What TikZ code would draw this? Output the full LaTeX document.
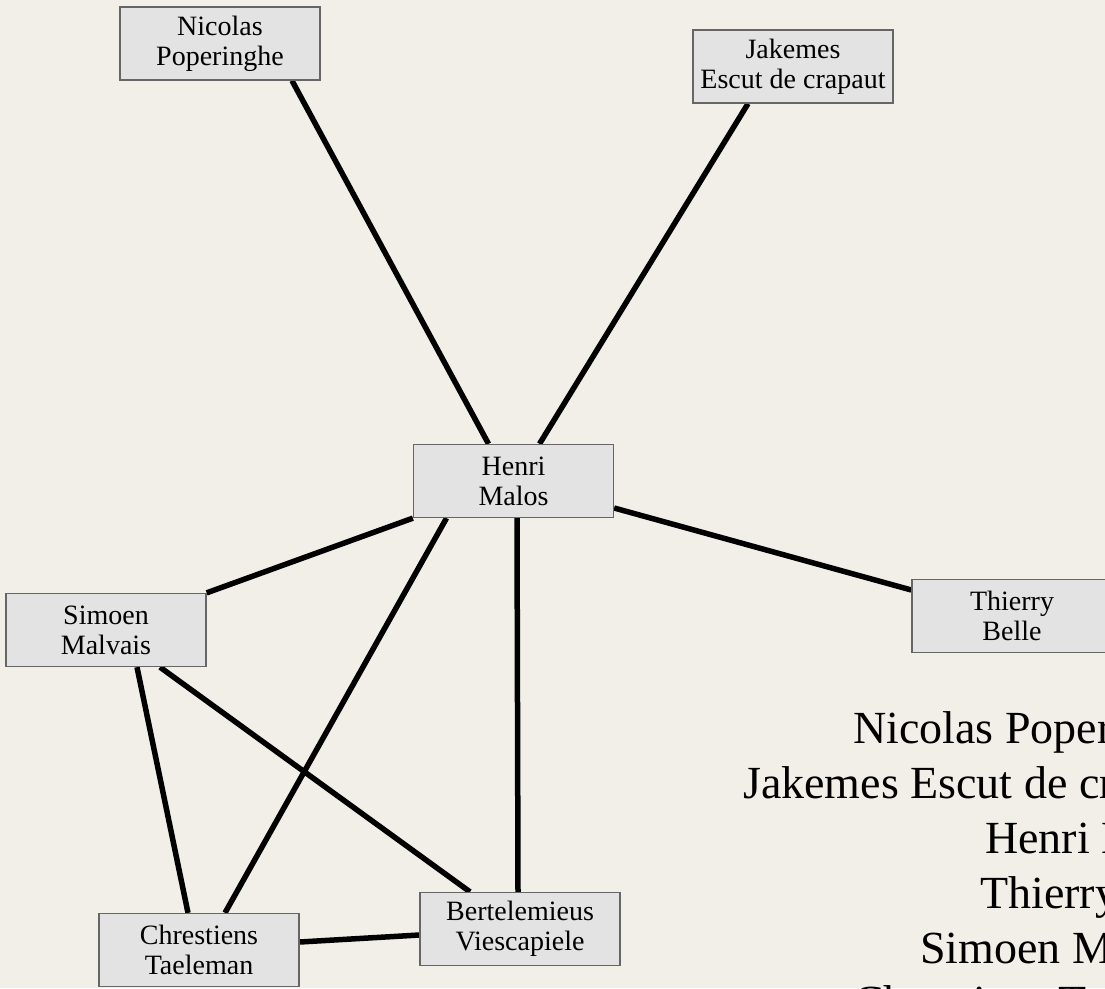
\documentclass[tikz,border=0pt]{standalone}
\usepackage{fontspec}
\setmainfont{Liberation Serif}
\definecolor{paper}{HTML}{F2EFE9}
\definecolor{boxfill}{HTML}{E3E3E3}
\definecolor{boxline}{HTML}{666666}
\pgfdeclarelayer{paperlayer}
\pgfdeclarelayer{tielayer}
\pgfsetlayers{paperlayer,tielayer,main}
\begin{document}
\begin{tikzpicture}[x=1pt,y=-1pt,
  person/.style={draw=boxline, fill=boxfill, line width=1.3pt,
    minimum width=200pt, minimum height=73pt, inner sep=0pt, align=center,
    font=\fontsize{28}{30}\selectfont},
  tie/.style={line width=5.5pt, draw=black},
  roll/.style={anchor=base west, inner sep=0pt,
    font=\fontsize{46}{55}\selectfont}]

\useasboundingbox (0,0) rectangle (1105,988);
\begin{pgfonlayer}{paperlayer}
  \fill[paper] (0,0) rectangle (1105,988);
\end{pgfonlayer}
\clip (0,0) rectangle (1105,988);

% people
\node[person] (np) at (220,43.5)  {Nicolas\\Poperinghe};
\node[person] (jk) at (793,66.5)  {Jakemes\\Escut de crapaut};
\node[person] (hm) at (513.5,481) {Henri\\Malos};
\node[person] (th) at (1012,616)  {Thierry\\Belle};
\node[person] (sm) at (106,630)   {Simoen\\Malvais};
\node[person] (bt) at (520,929)   {Bertelemieus\\Viescapiele};
\node[person] (ct) at (199,950)   {Chrestiens\\Taeleman};

% ties between people
\begin{pgfonlayer}{tielayer}
  \draw[tie] ([xshift=72pt]np.south) -- ([xshift=-25pt]hm.north);
  \draw[tie] ([xshift=-45pt]jk.south) -- ([xshift=26pt]hm.north);
  \draw[tie] ([yshift=-27pt]hm.east) -- ([yshift=26pt]th.west);
  \draw[tie] (hm.south west) -- (sm.north east);
  \draw[tie] ([xshift=-67pt]hm.south) -- ([xshift=26pt]ct.north);
  \draw[tie] ([xshift=3.5pt]hm.south) -- ([xshift=-2pt]bt.north);
  \draw[tie] ([xshift=31pt]sm.south) -- ([xshift=-11pt]ct.north);
  \draw[tie] ([xshift=54pt]sm.south) -- ([xshift=-50pt]bt.north);
  \draw[tie] ([yshift=8pt]ct.east) -- ([yshift=-6pt]bt.west);
\end{pgfonlayer}

% list of names
\node[roll] (l1) at (853,743)  {Nicolas Poperinghe};
\node[roll] (l2) at (743,798)  {Jakemes Escut de crapaut};
\node[roll] (l3) at (985,853)  {Henri Malos};
\node[roll] (l4) at (980,908)  {Thierry Belle};
\node[roll] (l5) at (920,963)  {Simoen Malvais};
\node[roll] (l6) at (853,1017) {Chrestiens Taeleman};
\end{tikzpicture}
\end{document}
